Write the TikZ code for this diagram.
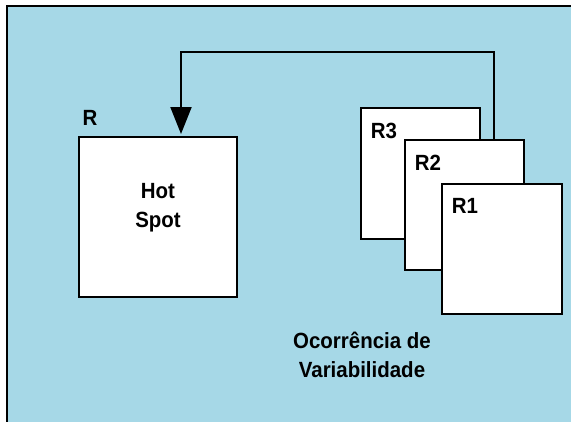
\documentclass[tikz,border=0pt]{standalone}
\usepackage{fontspec}
\setmainfont[FakeStretch=0.93]{Liberation Sans}
\usetikzlibrary{arrows.meta}
\definecolor{fundo}{RGB}{166,216,231}
\tikzset{
    caixa/.style={draw, fill=white, line width=2pt, inner sep=0pt},
    rotulo/.style={font=\bfseries\fontsize{22}{29}\selectfont, inner sep=0pt, align=center},
    seta/.style={line width=2pt, -{Triangle[width=21pt, length=27pt]}, shorten >=2pt}
}
\begin{document}
\begin{tikzpicture}[x=1pt, y=-1pt]
    \useasboundingbox (0,0) rectangle (571,421);
    \clip (0,0) rectangle (571,421);

    % fundo e moldura
    \fill[white] (0,0) rectangle (571,421);
    \draw[line width=2.5pt, fill=fundo] (7,6) rectangle (590,440);

    % caixa hot spot
    \node[caixa, minimum width=158pt, minimum height=160pt] (hot) at (158,217) {};
    \node[rotulo] (hottxt) at ([yshift=9pt]hot.center) {Hot\\Spot};
    \node[rotulo] (rlbl) at (90,118) {R};

    % seta de retorno
    \coordinate (canto) at (181,52);
    \draw[seta] (494,140) |- (canto) -- (canto |- hot.north);

    % replicas
    \node[caixa, minimum width=119pt, minimum height=131pt] (r3) at (420.5,173.5) {};
    \node[rotulo] (r3lbl) at ([shift={(24,24)}]r3.north west) {R3};
    \node[caixa, minimum width=119pt, minimum height=130pt] (r2) at (464.5,205) {};
    \node[rotulo] (r2lbl) at ([shift={(24,24)}]r2.north west) {R2};
    \node[caixa, minimum width=120pt, minimum height=130pt] (r1) at (502,249) {};
    \node[rotulo] (r1lbl) at ([shift={(24,23)}]r1.north west) {R1};

    % legenda
    \node[rotulo] (legenda) at (362,355) {Ocorrência de\\Variabilidade};
\end{tikzpicture}
\end{document}
